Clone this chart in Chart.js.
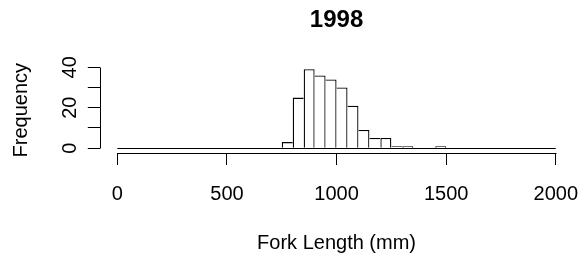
<!DOCTYPE html>
<html>
<head>
<meta charset="utf-8">
<title>1998</title>
<script src="https://cdn.jsdelivr.net/npm/chart.js@4.4.1/dist/chart.umd.min.js"></script>
<style>
  html, body { margin: 0; padding: 0; background: #fff; }
  canvas { display: block; }
</style>
</head>
<body>
<canvas id="histogram" width="587" height="259"></canvas>
<script>
// Histogram bins (mm) and their counts
const binWidth = 50;
const binStarts = [
  0, 50, 100, 150, 200, 250, 300, 350, 400, 450,
  500, 550, 600, 650, 700, 750, 800, 850, 900, 950,
  1000, 1050, 1100, 1150, 1200, 1250, 1300, 1350, 1400, 1450,
  1500, 1550, 1600, 1650, 1700, 1750, 1800, 1850, 1900, 1950
];
const counts = [
  0, 0, 0, 0, 0, 0, 0, 0, 0, 0,
  0, 0, 0, 0, 0, 3, 25, 39, 36, 34,
  30, 21, 9, 5, 5, 1, 1, 0, 0, 1,
  0, 0, 0, 0, 0, 0, 0, 0, 0, 0
];

// Axis ticks
const xTicks = [0, 500, 1000, 1500, 2000];
const yTicks = [0, 10, 20, 30, 40];
const yLabels = [0, 20, 40];

const FONT = "'Liberation Sans', Arial, Helvetica, sans-serif";
const EDGE = 1.3;

// R draws each shared bar edge once; give the edge to the taller bar
function barBorder(context) {
  const i = context.dataIndex;
  const v = counts[i];
  const prev = i > 0 ? counts[i - 1] : 0;
  const next = i < counts.length - 1 ? counts[i + 1] : 0;
  return { top: EDGE, bottom: 0, left: v >= prev ? EDGE : 0, right: v > next ? EDGE : 0 };
}

const crisp = (v) => Math.round(v) + 0.5;

// Axis lines, histogram baseline and rotated y labels, R style
const rAxes = {
  id: 'rAxes',
  afterDatasetsDraw(chart) {
    const { ctx, chartArea, scales: { x, y } } = chart;
    const xStart = x.getPixelForValue(xTicks[0]);
    const xEnd = x.getPixelForValue(xTicks[xTicks.length - 1]);
    const y0 = crisp(y.getPixelForValue(0));

    ctx.save();
    ctx.strokeStyle = '#000';
    ctx.lineWidth = 1;
    ctx.beginPath();
    ctx.moveTo(xStart, y0);
    ctx.lineTo(xEnd, y0);
    // x axis
    const xb = crisp(chartArea.bottom);
    ctx.moveTo(crisp(xStart), xb);
    ctx.lineTo(crisp(xEnd), xb);
    // y axis
    const yl = crisp(chartArea.left);
    ctx.moveTo(yl, crisp(y.getPixelForValue(yTicks[0])));
    ctx.lineTo(yl, crisp(y.getPixelForValue(yTicks[yTicks.length - 1])));
    ctx.stroke();

    ctx.fillStyle = '#000';
    ctx.font = `20px ${FONT}`;
    ctx.textAlign = 'center';
    ctx.textBaseline = 'alphabetic';
    yLabels.forEach((v) => {
      ctx.save();
      ctx.translate(chartArea.left - 24.2, y.getPixelForValue(v));
      ctx.rotate(-Math.PI / 2);
      ctx.fillText(String(v), 0, 0);
      ctx.restore();
    });
    ctx.restore();
  }
};

const chart = new Chart(document.getElementById('histogram'), {
  type: 'bar',
  data: {
    datasets: [
      {
        label: 'Frequency',
        data: binStarts.map((start, i) => ({ x: start + binWidth / 2, y: counts[i] })),
        backgroundColor: '#ffffff',
        borderColor: '#000000',
        borderWidth: barBorder,
        borderSkipped: false,
        inflateAmount: 0,
        barPercentage: 1,
        categoryPercentage: 1
      }
    ]
  },
  options: {
    responsive: false,
    devicePixelRatio: 1,
    animation: false,
    events: [],
    layout: { padding: { left: 0, top: 0, right: 13.7, bottom: 0 } },
    plugins: {
      legend: { display: false },
      tooltip: { enabled: false },
      title: {
        display: true,
        text: '1998',
        fullSize: false,
        color: '#000',
        font: { family: FONT, size: 24, weight: 'bold' },
        padding: { top: 6.3, bottom: 32.2 }
      }
    },
    scales: {
      x: {
        type: 'linear',
        min: -80,
        max: 2080,
        offset: false,
        afterBuildTicks: (scale) => {
          scale.ticks = xTicks.map((v) => ({ value: v }));
        },
        border: { display: false },
        grid: {
          offset: false,
          drawOnChartArea: false,
          drawTicks: true,
          tickLength: 12,
          color: '#000',
          lineWidth: 1
        },
        ticks: {
          autoSkip: false,
          maxRotation: 0,
          padding: 5.9,
          color: '#000',
          font: { family: FONT, size: 20, lineHeight: 2.4 },
          callback: (v) => String(v)
        },
        title: {
          display: true,
          text: 'Fork Length (mm)',
          color: '#000',
          font: { family: FONT, size: 20 },
          padding: { top: 6.3, bottom: 3.9 }
        }
      },
      y: {
        type: 'linear',
        min: -2.4,
        max: 40,
        afterBuildTicks: (scale) => {
          scale.ticks = yTicks.map((v) => ({ value: v }));
        },
        border: { display: false },
        grid: {
          drawOnChartArea: false,
          drawTicks: true,
          tickLength: 12,
          color: '#000',
          lineWidth: 1
        },
        ticks: { display: false },
        title: {
          display: true,
          text: 'Frequency',
          color: '#000',
          font: { family: FONT, size: 20 },
          padding: { top: 9.1, bottom: 54.7 }
        }
      }
    }
  },
  plugins: [rAxes]
});
</script>
</body>
</html>
